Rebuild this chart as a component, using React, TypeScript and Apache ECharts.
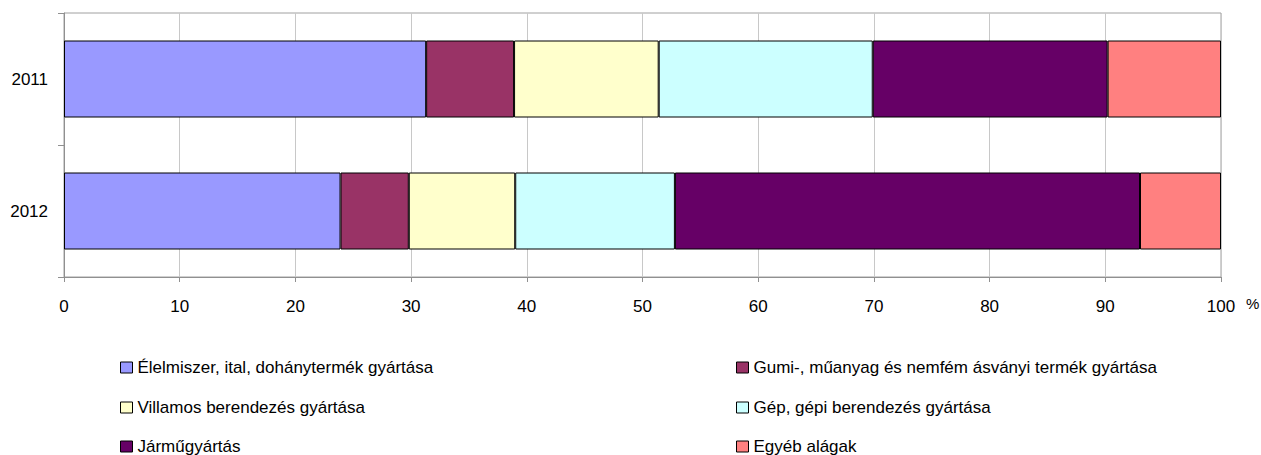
import React, { useEffect, useRef } from "react";
import * as echarts from "echarts";

const categories = ["2011", "2012"];
const seriesNames = [
  "Élelmiszer, ital, dohánytermék gyártása",
  "Gumi-, műanyag és nemfém ásványi termék gyártása",
  "Villamos berendezés gyártása",
  "Gép, gépi berendezés gyártása",
  "Járműgyártás",
  "Egyéb alágak",
];
const elelmiszer = [31.3, 23.9];
const gumi = [7.6, 5.9];
const villamos = [12.5, 9.2];
const gep = [18.5, 13.8];
const jarmu = [20.3, 40.2];
const egyeb = [9.8, 7.0];
const seriesValues = [elelmiszer, gumi, villamos, gep, jarmu, egyeb];
const colors = ["#9999FF", "#993366", "#FFFFCC", "#CCFFFF", "#660066", "#FF8080"];
const xTicks = [0, 100, 10];

const FONT = "'Liberation Sans', Arial, sans-serif";

export default function App() {
  const ref = useRef<HTMLDivElement>(null);
  useEffect(() => {
    if (!ref.current) return;
    document.documentElement.style.overflow = "hidden";
    document.body.style.overflow = "hidden";
    document.body.style.margin = "0";
    const chart = echarts.init(ref.current, undefined, { renderer: "svg" });
    const legendPos = [
      { left: 120, top: 359 },
      { left: 736, top: 359 },
      { left: 120, top: 399 },
      { left: 736, top: 399 },
      { left: 120, top: 438 },
      { left: 736, top: 438 },
    ];
    chart.setOption({
      animation: false,
      color: colors,
      grid: {
        left: 64,
        right: 40,
        top: 13,
        bottom: 178,
        show: true,
        borderColor: "#a0a0a0",
        borderWidth: 1,
        containLabel: false,
        outerBoundsMode: "none",
      },
      legend: seriesNames.map((n, i) => ({
        data: [n],
        left: legendPos[i].left,
        top: legendPos[i].top,
        icon: "rect",
        itemWidth: 12,
        itemHeight: 11,
        padding: 0,
        selectedMode: false,
        itemStyle: { borderColor: "#000", borderWidth: 1 },
        textStyle: { fontFamily: FONT, fontSize: 17, color: "#000" },
      })),
      xAxis: {
        type: "value",
        min: xTicks[0],
        max: xTicks[1],
        interval: xTicks[2],
        name: "%",
        nameLocation: "end",
        nameGap: 25,
        nameTextStyle: {
          fontFamily: FONT,
          fontSize: 15,
          color: "#000",
          verticalAlign: "top",
          padding: [19, 0, 0, 0],
        },
        axisLine: { show: true, lineStyle: { color: "#909090", width: 1 } },
        axisTick: { show: true, length: 5, lineStyle: { color: "#909090" } },
        axisLabel: { fontFamily: FONT, fontSize: 17, color: "#000", margin: 21 },
        splitLine: { show: true, lineStyle: { color: "#c8c8c8", width: 1 } },
      },
      yAxis: {
        type: "category",
        data: categories,
        inverse: true,
        axisLine: { show: true, lineStyle: { color: "#909090", width: 1 } },
        axisTick: { show: true, length: 6, lineStyle: { color: "#909090" } },
        axisLabel: { fontFamily: FONT, fontSize: 17, color: "#000", margin: 16 },
        splitLine: { show: false },
      },
      series: seriesNames.map((n, i) => ({
        name: n,
        type: "bar",
        stack: "total",
        data: seriesValues[i],
        barWidth: 77,
        itemStyle: { color: colors[i], borderColor: "#000", borderWidth: 1 },
      })),
    });
    return () => chart.dispose();
  }, []);
  return (
    <div
      ref={ref}
      style={{ position: "absolute", left: 0, top: 0, width: 1261, height: 455 }}
    />
  );
}
